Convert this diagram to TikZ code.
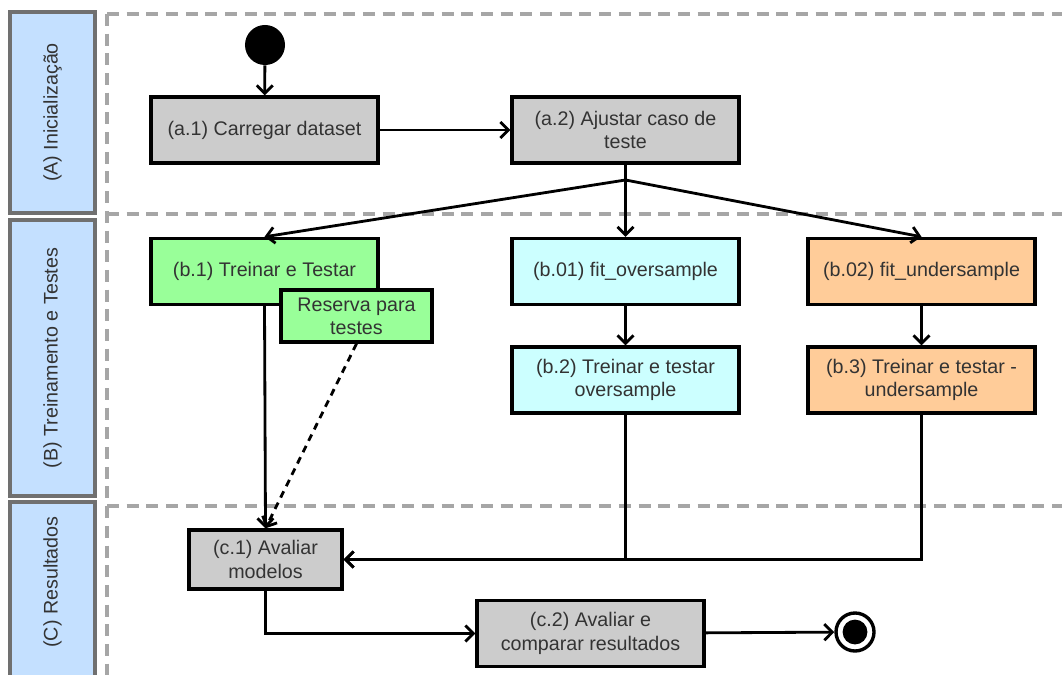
\documentclass[tikz,border=0pt]{standalone}
\usepackage{fontspec}
\setmainfont{Liberation Sans}
\usetikzlibrary{arrows.meta, positioning, calc}
\definecolor{actgray}{HTML}{CCCCCC}
\definecolor{actgreen}{HTML}{99FF99}
\definecolor{actcyan}{HTML}{CCFFFF}
\definecolor{actorange}{HTML}{FFCC99}
\definecolor{lanefill}{HTML}{C4E0FF}
\definecolor{laneedge}{HTML}{707070}
\definecolor{sepgray}{HTML}{A6A6A6}
\definecolor{txtgray}{HTML}{333333}

\begin{document}
\begin{tikzpicture}[
    x=0.025cm, y=-0.025cm,
    act/.style={rectangle, draw=black, line width=2.4pt, fill=#1, minimum width=5.675cm, minimum height=1.65cm, align=center, inner sep=2pt, text=txtgray, font=\fontsize{14}{16.5}\selectfont},
    flow/.style={-{Straight Barb[length=2mm, width=4mm]}, line width=2pt},
    lanebox/.style={draw=laneedge, fill=lanefill, line width=2.6pt},
    lanesep/.style={draw=sepgray, line width=2.2pt, dash pattern=on 8.5pt off 5.5pt},
    lanetext/.style={rotate=90, text=txtgray, font=\fontsize{14}{16.5}\selectfont}
]
\useasboundingbox (0,0) rectangle (1062,675);

% Swimlanes
\draw[lanebox] (10,12) rectangle (95,213);
\draw[lanebox] (10,220) rectangle (95,496);
\draw[lanebox] (10,502) rectangle (95,700);
\node[lanetext] (laneA) at (52.5,112.5) {(A) Inicialização};
\node[lanetext] (laneB) at (52.5,358) {(B) Treinamento e Testes};
\node[lanetext] (laneC) at (52.5,582) {(C) Resultados};
\draw[lanesep] (107,14) -- (107,690);
\draw[lanesep] (107,14) -- (1070,14);
\draw[lanesep] (107,214) -- (1070,214);
\draw[lanesep] (107,506) -- (1070,506);

% Start and end
\node[circle, fill=black, minimum size=1cm, inner sep=0pt] (start) at (265,45) {};
\node[circle, draw=black, line width=2.4pt, fill=white, minimum size=0.95cm, inner sep=0pt] (stop) at (855,632) {};
\node[circle, fill=black, minimum size=0.62cm, inner sep=0pt] at (stop) {};

% Activities
\node[act=actgray] (a1) at (264.5,130) {(a.1) Carregar dataset};
\node[act=actgray] (a2) at (625.5,130) {(a.2) Ajustar caso de\\teste};
\node[act=actgreen] (b1) at (264.5,271.5) {(b.1) Treinar e Testar};
\node[act=actgreen, minimum width=3.775cm, minimum height=1.3cm] (res) at (356.5,316) {Reserva para\\testes};
\node[act=actcyan] (b01) at (625.5,271.5) {(b.01) fit\_oversample};
\node[act=actorange] (b02) at (921.5,271.5) {(b.02) fit\_undersample};
\node[act=actcyan] (b2) at (625.5,380) {(b.2) Treinar e testar\\oversample};
\node[act=actorange] (b3) at (921.5,380) {(b.3) Treinar e testar -\\undersample};
\node[act=actgray, minimum width=3.825cm, minimum height=1.475cm] (c1) at (265.5,559.5) {(c.1) Avaliar\\modelos};
\node[act=actgray] (c2) at (590.5,633.5) {(c.2) Avaliar e\\comparar resultados};

% Flows
\coordinate (fork) at (625.5,180);
\draw[flow] (start) -- (a1);
\draw[flow] (a1) -- (a2);
\draw[flow] (a2) -- (b01);
\draw[flow] (fork) -- (b1.north);
\draw[flow] (fork) -- (b02.north);
\draw[flow] (b01) -- (b2);
\draw[flow] (b02) -- (b3);
\draw[flow] (b1.south) -- (c1.north);
\draw[flow, dash pattern=on 5pt off 4pt] (res.south) -- (c1.north);
\draw[flow] (b2.south) |- (c1.east);
\draw[flow] (b3.south) |- (c1.east);
\draw[flow] (c1.south) |- (c2.west);
\draw[flow] (c2) -- (stop);

\end{tikzpicture}
\end{document}
